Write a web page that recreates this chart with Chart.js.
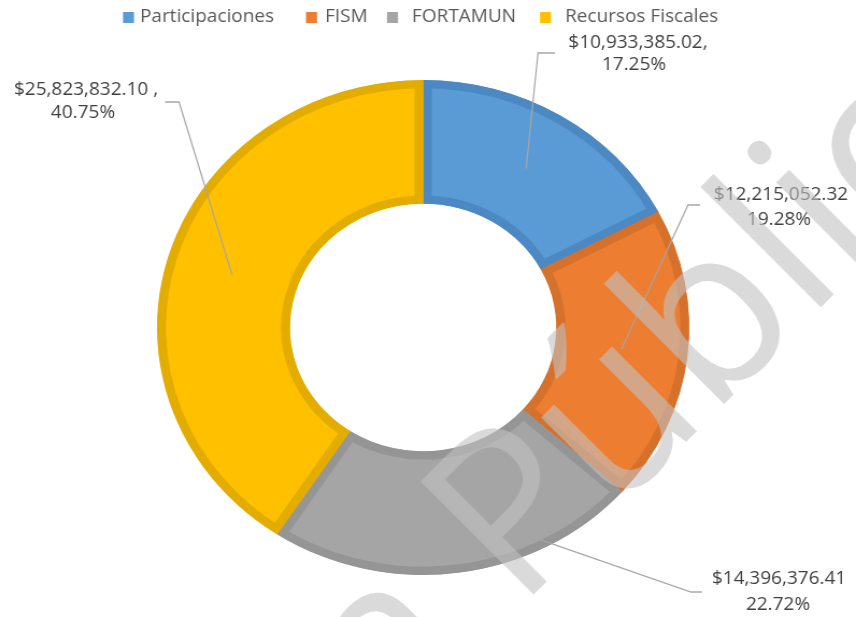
<!DOCTYPE html>
<html>
<head>
<meta charset="utf-8">
<script src="https://cdn.jsdelivr.net/npm/chart.js@4/dist/chart.umd.min.js"></script>
<style>
    html, body { margin: 0; padding: 0; background: #fff; }
</style>
</head>
<body>
<canvas id="chart" width="796" height="617" style="display:block;width:856px;height:617px"></canvas>
<script>
// data
const categories = ["Participaciones", "FISM", "FORTAMUN", "Recursos Fiscales"];
const amounts = [10933385.02, 12215052.32, 14396376.41, 25823832.10];
const percentLabels = ["17.25%", "19.28%", "22.72%", "40.75%"];
const amountSuffix = [",", "", "", " ,"];

const fillColors = ["#5B9BD5", "#ED7D31", "#A5A5A5", "#FFC000"];
const borderColors = ["#4C88C2", "#D6712C", "#959595", "#E3AC00"];

// the reference picture is a bit wider than tall, so the canvas is stretched
const SX = 856 / 796;

// label layout (page pixels)
const anchorAngleFrac = [0.5, 0.5, 0.27, 0.5];
const anchorRadiusFrac = [0.5, 0.5, 0.9, 0.5];
const elbowPts = [[538, 53], [688, 205], [691, 592], [179, 102]];
const leaderEnds = [[555, 53], [700, 205], [702, 592], [165, 102]];
const line1Pos = [[638, 43], [781, 195], [779, 579], [86, 90]];
const line2Pos = [[634, 65], [779, 220], [778, 605], [83, 113]];

// legend layout (page pixels)
const legendBoxX = [123, 306, 387, 540];
const legendTextX = [140, 325, 412, 565];

function money(v) {
    return "$" + v.toLocaleString("en-US", { minimumFractionDigits: 2, maximumFractionDigits: 2 });
}

const labelsPlugin = {
    id: "excelLabels",
    afterDraw: (chart) => {
        const { ctx } = chart;
        const meta = chart.getDatasetMeta(0);
        ctx.save();
        ctx.scale(1 / SX, 1);

        // legend
        ctx.font = "19px 'Open Sans'";
        ctx.textBaseline = "middle";
        ctx.textAlign = "left";
        categories.forEach((c, i) => {
            ctx.fillStyle = fillColors[i];
            ctx.fillRect(legendBoxX[i], 12, 11, 11);
            ctx.fillStyle = "#595959";
            ctx.fillText(c, legendTextX[i], 17);
        });

        // leader lines + data labels
        meta.data.forEach((arc, i) => {
            const p = arc.getProps(["x", "y", "startAngle", "endAngle", "innerRadius", "outerRadius"]);
            const a = p.startAngle + (p.endAngle - p.startAngle) * anchorAngleFrac[i];
            const r = p.innerRadius + (p.outerRadius - p.innerRadius) * anchorRadiusFrac[i];
            const ax = (p.x + Math.cos(a) * r) * SX;
            const ay = p.y + Math.sin(a) * r;

            ctx.beginPath();
            ctx.strokeStyle = "#A6A6A6";
            ctx.lineWidth = 1.3;
            ctx.moveTo(ax, ay);
            ctx.lineTo(elbowPts[i][0], elbowPts[i][1]);
            ctx.lineTo(leaderEnds[i][0], leaderEnds[i][1]);
            ctx.stroke();

            ctx.font = "19px 'Open Sans'";
            ctx.fillStyle = "#404040";
            ctx.textAlign = "center";
            ctx.textBaseline = "middle";
            ctx.fillText(money(amounts[i]) + amountSuffix[i], line1Pos[i][0], line1Pos[i][1]);
            ctx.fillText(percentLabels[i], line2Pos[i][0], line2Pos[i][1]);
        });

        // watermark
        ctx.save();
        ctx.translate(518, 610);
        ctx.rotate(-Math.PI / 4);
        ctx.font = "224px 'Open Sans'";
        ctx.fillStyle = "rgba(193,193,193,0.6)";
        ctx.textBaseline = "alphabetic";
        ctx.textAlign = "left";
        ctx.fillText("Pública", 0, 0);
        ctx.textAlign = "right";
        ctx.fillText("Versión ", 0, 0);
        ctx.restore();

        ctx.restore();
    },
};

new Chart(document.getElementById("chart"), {
    type: "doughnut",
    plugins: [labelsPlugin],
    data: {
        labels: categories,
        datasets: [
            {
                data: amounts,
                backgroundColor: fillColors,
                borderColor: borderColors,
                borderWidth: 8,
                borderAlign: "inner",
                hoverOffset: 0,
            },
        ],
    },
    options: {
        responsive: false,
        devicePixelRatio: 1,
        animation: false,
        cutout: "50%",
        layout: {
            padding: { top: 80, bottom: 42, left: 146, right: 155 },
        },
        plugins: {
            legend: { display: false },
            tooltip: { enabled: false },
        },
    },
});
</script>
</body>
</html>
